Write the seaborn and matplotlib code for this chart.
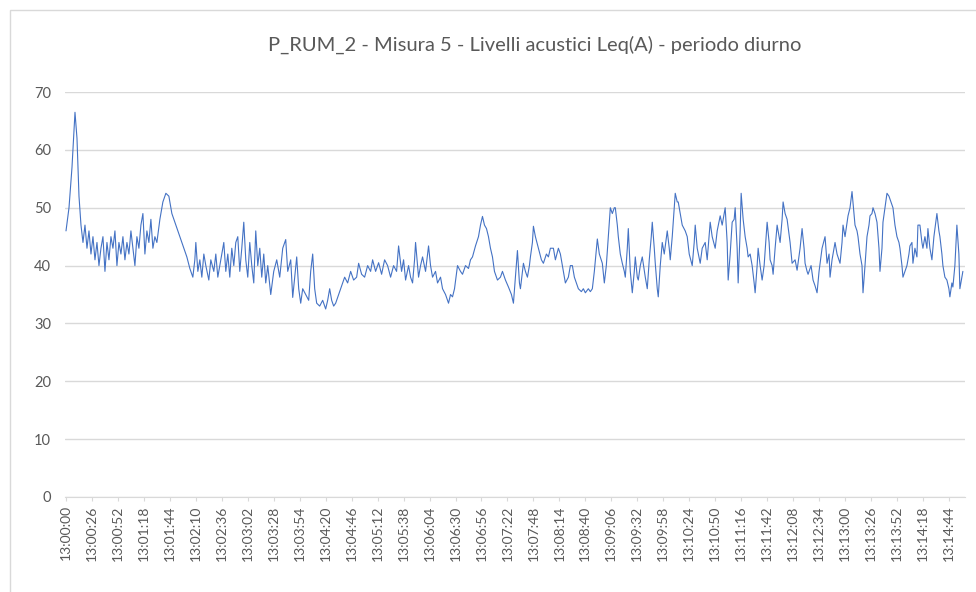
import pandas as pd
import seaborn as sns
import matplotlib.pyplot as plt
from matplotlib.patches import Rectangle

# seconds after 13:00:00 and Leq(A) in dB
secs = [
    0, 3, 6, 9, 11, 13, 15, 17, 19, 21, 23, 25, 27, 29, 31,
    33, 35, 37, 39, 41, 43, 45, 47, 49, 51, 53, 55, 57, 59, 61,
    63, 65, 67, 69, 71, 73, 75, 77, 79, 81, 83, 85, 87, 89, 91,
    94, 97, 100, 103, 106, 109, 112, 115, 118, 121, 124, 127, 129, 130, 132,
    134, 136, 138, 140, 143, 145, 148, 150, 152, 155, 158, 160, 162, 164, 166,
    168, 170, 172, 174, 176, 178, 180, 182, 184, 186, 188, 190, 192, 194, 196,
    198, 200, 202, 205, 208, 211, 214, 217, 220, 222, 225, 227, 229, 231, 233,
    235, 237, 240, 243, 245, 247, 249, 251, 254, 257, 260, 262, 264, 266, 268,
    270, 273, 276, 279, 282, 285, 288, 291, 293, 296, 299, 302, 305, 307, 310,
    313, 316, 319, 322, 325, 328, 331, 333, 336, 338, 340, 343, 345, 347, 349,
    350, 352, 353, 355, 357, 360, 363, 365, 367, 370, 372, 375, 377, 380, 383,
    385, 387, 389, 392, 395, 397, 400, 403, 405, 407, 410, 413, 415, 417, 419,
    421, 423, 425, 427, 429, 432, 435, 437, 440, 443, 446, 448, 450, 452, 454,
    455, 457, 458, 460, 462, 464, 465, 467, 468, 470, 473, 476, 478, 481, 483,
    485, 488, 490, 493, 495, 497, 500, 503, 505, 507, 509, 511, 513, 516, 518,
    520, 523, 525, 527, 529, 532, 534, 537, 539, 541, 543, 545, 547, 549, 550,
    552, 553, 555, 557, 559, 560, 562, 563, 565, 567, 569, 570, 572, 573, 575,
    577, 580, 582, 584, 586, 587, 589, 590, 592, 593, 595, 597, 599, 602, 604,
    605, 607, 609, 610, 612, 613, 615, 617, 620, 622, 624, 627, 629, 630, 632,
    635, 637, 640, 642, 645, 647, 650, 652, 655, 657, 660, 662, 663, 665, 667,
    669, 670, 672, 673, 675, 676, 678, 680, 682, 683, 685, 687, 689, 690, 692,
    693, 695, 697, 699, 702, 704, 705, 707, 708, 710, 712, 714, 715, 717, 718,
    720, 722, 725, 727, 730, 732, 735, 737, 739, 740, 742, 743, 746, 748, 750,
    752, 754, 757, 760, 762, 764, 765, 767, 770, 772, 775, 777, 778, 780, 783,
    785, 787, 789, 790, 792, 793, 795, 797, 798, 800, 802, 804, 805, 807, 808,
    810, 812, 814, 815, 817, 818, 820, 822, 824, 825, 827, 828, 830, 832, 834,
    835, 837, 838, 840, 842, 844, 845, 847, 848, 850, 852, 853, 855, 857, 858,
    860, 862, 863, 865, 867, 869, 872, 874, 875, 877, 878, 880, 882, 884, 885,
    887, 888, 890, 892, 894, 895, 897, 898,
]
leq = [
    46, 50, 57, 66.5, 62, 52, 47, 44, 47, 43, 46, 42, 45, 41, 44,
    40, 43, 45, 39, 44, 41, 45, 43, 46, 40, 44, 42, 45, 41, 44,
    42, 46, 43, 40, 45, 43, 47, 49, 42, 46, 44, 48, 43, 45, 44,
    48, 51, 52.5, 52, 49, 47.5, 46, 44.5, 43, 41.5, 39.5, 38, 41, 44, 39,
    41, 38, 42, 40, 37.5, 41, 39, 42, 38, 41, 44, 39, 42, 38, 43,
    40, 44, 45, 39, 43, 47.5, 41, 38, 44, 40, 37, 46, 40, 43, 38,
    42, 37, 40, 35, 39, 41, 38, 43, 44.5, 39, 41, 34.5, 38, 41.5, 36,
    33.5, 36, 35, 34, 39, 42, 36, 33.5, 33, 34, 32.5, 34, 36, 34, 33,
    33.5, 35, 36.5, 38, 37, 39, 37.5, 38, 40.4, 38.5, 38, 40, 39, 41, 39,
    40.5, 38.5, 41, 40, 38, 40, 39, 43.4, 39, 41, 37.5, 40, 38, 37, 41,
    44, 40, 38, 40, 41.5, 39, 43.4, 40, 38, 39, 37, 38, 36, 35, 33.5,
    35, 34.6, 36, 40, 39, 38.5, 40, 39.5, 41, 41.5, 43.4, 45, 47, 48.5, 47,
    46.4, 45, 43, 41.5, 39, 37.5, 38, 39, 37.5, 36.3, 35, 33.5, 38, 42.6, 37,
    36, 39, 40.4, 39, 38, 40, 41.5, 44, 46.8, 45, 43, 41, 40.4, 42, 41.5,
    43, 43, 41, 43, 42, 40, 37, 38, 40, 40, 38, 37, 36, 35.5, 36,
    35.3, 36, 35.5, 36, 39, 44.6, 42, 40.4, 37, 40, 45, 50, 49, 50, 50,
    47, 45, 42, 40.4, 39, 38, 43, 46.4, 39, 35.3, 39, 41.5, 38, 37.5, 40,
    41.5, 38, 36, 41, 45, 47.5, 43, 40.4, 36, 34.6, 40, 44, 42, 46, 43,
    41, 45, 50, 52.5, 51, 51, 49, 47, 46, 45, 42, 40, 44, 47, 43,
    40.4, 43, 44, 41, 47.5, 45, 43, 46, 48.6, 47, 50, 44, 37.5, 42, 47.5,
    48, 50, 43, 37, 46, 52.5, 48, 45, 43, 41.5, 42, 40, 37, 35.3, 40,
    43, 40, 37.5, 40, 47.5, 44, 41, 40, 38.5, 43, 47, 45, 44, 48, 51,
    49, 48, 44, 40.4, 41, 39.2, 43, 46.4, 43, 40.4, 39, 38.5, 40, 37.5, 36.5,
    35.3, 39, 43, 45, 40.4, 42, 38, 41, 44, 42, 40.4, 44, 47, 45, 48.6,
    50, 52.8, 49, 47, 46, 45, 42, 40, 35.3, 40, 45, 47, 48.6, 49, 50,
    49, 47.5, 43, 39, 43, 47.5, 50, 52.5, 52, 51.5, 50.5, 50, 47, 45, 44,
    43, 40, 38, 39, 40, 42, 43.4, 44, 40.4, 43, 41.5, 47, 47, 44, 43,
    45, 43, 46.4, 43, 41, 45, 49, 46, 45, 42, 40, 38, 37.5, 36, 34.6,
    37, 36.3, 40, 47, 42, 36, 38, 39,
]

tick_labels = [
    "13:00:00", "13:00:26", "13:00:52", "13:01:18", "13:01:44", "13:02:10",
    "13:02:36", "13:03:02", "13:03:28", "13:03:54", "13:04:20", "13:04:46",
    "13:05:12", "13:05:38", "13:06:04", "13:06:30", "13:06:56", "13:07:22",
    "13:07:48", "13:08:14", "13:08:40", "13:09:06", "13:09:32", "13:09:58",
    "13:10:24", "13:10:50", "13:11:16", "13:11:42", "13:12:08", "13:12:34",
    "13:13:00", "13:13:26", "13:13:52", "13:14:18", "13:14:44",
]
y_ticks = [0, 10, 20, 30, 40, 50, 60, 70]

title = "P_RUM_2 - Misura 5 - Livelli acustici Leq(A) - periodo diurno"

assert len(secs) == len(leq)

sns.set_style("white")
plt.rcParams['font.family'] = ['Lato', 'DejaVu Sans']

df = pd.DataFrame({"secs": secs, "leq": leq})
tick_pos = [(pd.Timedelta(s) - pd.Timedelta("13:00:00")).total_seconds()
            for s in tick_labels]

fig = plt.figure(figsize=(9.76, 5.92), dpi=100)
ax = fig.add_axes([0.0666, 0.1605, 0.922, 0.684])

sns.lineplot(data=df, x="secs", y="leq", ax=ax, color="#4472C4", linewidth=0.8)

ax.set_xlim(-1, 900)
ax.set_ylim(0, 70)
ax.set_yticks(y_ticks)
ax.set_xticks(tick_pos)
ax.set_xticklabels(tick_labels, rotation=90)
ax.set_xlabel("")
ax.set_ylabel("")
ax.grid(axis="y", color="#d9d9d9", linewidth=1)
ax.grid(axis="x", visible=False)
for side in ["top", "right", "left"]:
    ax.spines[side].set_visible(False)
ax.spines["bottom"].set_color("#d9d9d9")
ax.tick_params(axis="y", length=0, pad=10, labelsize=10.5, labelcolor="#595959")
ax.tick_params(axis="x", length=3, color="#d9d9d9", pad=3, labelsize=10,
               labelcolor="#595959", bottom=True)

fig.text(0.548, 0.924, title, ha="center", va="center", fontsize=14.5, color="#595959")

# chart frame
fig.patches.append(Rectangle((10 / 976, -0.1), 1.2, 1 - 10 / 592 + 0.1,
                             transform=fig.transFigure, fill=False,
                             edgecolor="#d9d9d9", linewidth=1))

plt.savefig("out.png", dpi=100)
